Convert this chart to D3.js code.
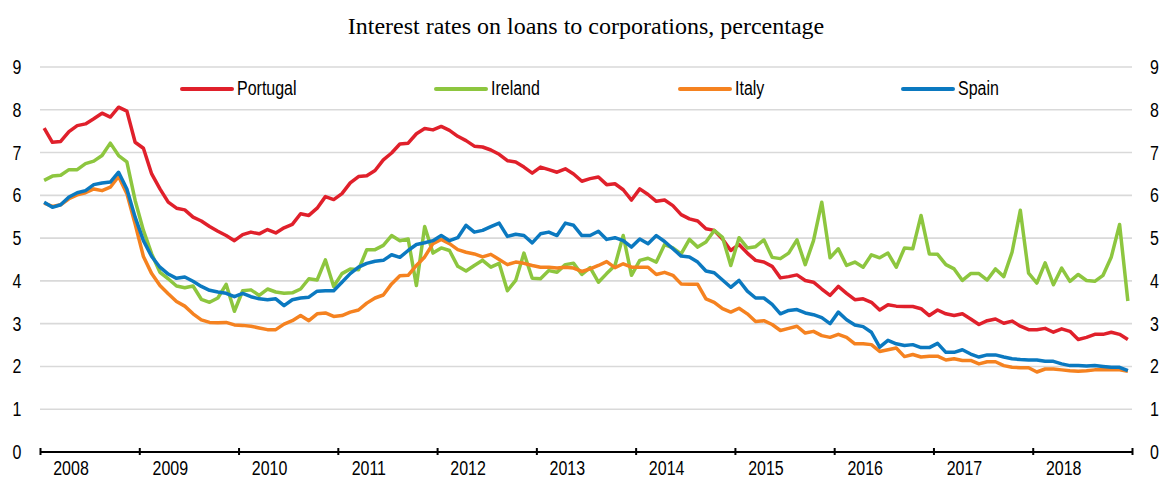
<!DOCTYPE html>
<html>
<head>
<meta charset="utf-8">
<script src="https://cdn.jsdelivr.net/npm/d3@7"></script>
<style>
	body { margin: 0; background: #fff; }
	.lab { font-family: "Liberation Sans", Arial, sans-serif; font-size: 19.5px; fill: #000; }
	.title { font-family: "Liberation Serif", "Times New Roman", serif; font-size: 24px; fill: #000; }
</style>
</head>
<body>
<div id="chart"></div>
<script>
// monthly values, Jan 2008 .. Dec 2018
var years = ["2008", "2009", "2010", "2011", "2012", "2013", "2014", "2015", "2016", "2017", "2018"];
var yTicks = [0, 1, 2, 3, 4, 5, 6, 7, 8, 9];
var names = ["Portugal", "Ireland", "Italy", "Spain"];
var colors = ["#e0202b", "#8dc63f", "#f58220", "#0b79c0"];

var portugal = [7.57,7.24,7.26,7.49,7.63,7.67,7.79,7.92,7.83,8.06,7.97,7.24,7.10,6.50,6.15,5.84,5.70,5.66,5.49,5.40,5.27,5.16,
	5.06,4.94,5.08,5.14,5.10,5.20,5.12,5.24,5.32,5.57,5.53,5.70,5.97,5.90,6.04,6.29,6.44,6.46,6.58,6.83,6.99,7.20,
	7.22,7.44,7.56,7.53,7.61,7.52,7.38,7.28,7.15,7.13,7.06,6.96,6.81,6.78,6.66,6.52,6.66,6.60,6.54,6.62,6.50,6.33,
	6.39,6.43,6.25,6.27,6.13,5.89,6.15,6.02,5.86,5.89,5.76,5.55,5.45,5.40,5.22,5.18,4.98,4.71,4.85,4.65,4.48,4.44,
	4.34,4.07,4.10,4.14,4.01,3.97,3.81,3.66,3.87,3.71,3.56,3.58,3.50,3.32,3.44,3.41,3.40,3.40,3.35,3.19,3.32,3.23,
	3.19,3.23,3.11,2.98,3.07,3.11,3.01,3.06,2.94,2.86,2.86,2.89,2.80,2.88,2.82,2.63,2.68,2.75,2.75,2.80,2.75,2.63];

var ireland = [6.35,6.45,6.47,6.60,6.60,6.74,6.80,6.93,7.22,6.93,6.78,5.88,5.18,4.63,4.20,4.05,3.88,3.84,3.88,3.57,3.50,3.60,
	3.92,3.29,3.77,3.79,3.66,3.81,3.74,3.71,3.72,3.81,4.05,4.02,4.49,3.87,4.17,4.28,4.26,4.73,4.73,4.83,5.06,4.94,
	4.98,3.89,5.27,4.65,4.77,4.71,4.34,4.23,4.36,4.48,4.32,4.41,3.77,4.01,4.65,4.06,4.05,4.24,4.20,4.38,4.41,4.15,
	4.31,3.97,4.17,4.36,5.06,4.13,4.48,4.53,4.44,4.85,4.77,4.63,4.97,4.79,4.91,5.18,5.02,4.36,5.01,4.77,4.80,4.96,
	4.55,4.52,4.65,4.96,4.38,4.94,5.84,4.54,4.75,4.36,4.44,4.32,4.61,4.54,4.65,4.32,4.77,4.75,5.53,4.63,4.62,4.38,
	4.28,4.01,4.17,4.17,4.02,4.28,4.10,4.67,5.65,4.18,3.95,4.42,3.91,4.30,3.99,4.15,4.01,3.99,4.13,4.56,5.32,3.53];

var italy = [5.82,5.74,5.78,5.92,6.01,6.06,6.15,6.11,6.19,6.44,6.04,5.33,4.57,4.17,3.89,3.70,3.52,3.41,3.23,3.09,3.03,3.02,
	3.03,2.97,2.96,2.94,2.90,2.86,2.86,2.99,3.07,3.19,3.07,3.23,3.25,3.17,3.19,3.27,3.32,3.48,3.60,3.67,3.93,4.12,
	4.13,4.36,4.56,4.87,4.97,4.87,4.73,4.67,4.63,4.56,4.62,4.50,4.38,4.44,4.41,4.36,4.32,4.32,4.30,4.32,4.30,4.22,
	4.28,4.36,4.45,4.31,4.40,4.32,4.32,4.32,4.15,4.20,4.13,3.93,3.92,3.92,3.58,3.50,3.35,3.27,3.36,3.23,3.05,3.07,
	2.98,2.84,2.89,2.94,2.78,2.82,2.72,2.68,2.75,2.68,2.53,2.53,2.51,2.35,2.39,2.43,2.23,2.28,2.22,2.24,2.24,2.15,
	2.18,2.14,2.14,2.06,2.11,2.11,2.02,1.98,1.97,1.97,1.87,1.94,1.94,1.92,1.90,1.89,1.90,1.92,1.93,1.92,1.92,1.89];

var spain = [5.84,5.72,5.78,5.96,6.06,6.11,6.25,6.29,6.31,6.54,6.15,5.49,4.94,4.57,4.32,4.16,4.06,4.09,3.99,3.87,3.78,3.74,
	3.71,3.63,3.71,3.63,3.58,3.56,3.58,3.42,3.56,3.60,3.62,3.76,3.77,3.77,3.97,4.17,4.32,4.41,4.46,4.48,4.61,4.55,
	4.71,4.85,4.89,4.94,5.06,4.94,5.01,5.30,5.14,5.18,5.27,5.35,5.04,5.09,5.06,4.89,5.10,5.14,5.06,5.35,5.30,5.06,
	5.06,5.16,4.97,5.01,4.94,4.79,4.98,4.87,5.06,4.92,4.75,4.58,4.56,4.44,4.23,4.19,4.02,3.85,4.01,3.76,3.60,3.60,
	3.45,3.23,3.31,3.33,3.25,3.21,3.14,3.00,3.27,3.09,2.97,2.93,2.80,2.45,2.61,2.53,2.49,2.51,2.44,2.44,2.54,2.33,
	2.33,2.39,2.29,2.22,2.27,2.27,2.22,2.18,2.16,2.15,2.15,2.12,2.12,2.06,2.02,2.02,2.01,2.02,2.00,1.98,1.98,1.90];

var W = 1161, H = 479,
	plotLeft = 40, plotRight = 1132,
	plotTop = 67, plotBottom = 452,
	nMonths = 132,
	narrow = 0.82;   // no Arial Narrow here, squeeze the sans font instead

var series = [portugal, ireland, italy, spain];

var x = d3.scaleLinear().domain([0, nMonths]).range([plotLeft, plotRight]);
var y = d3.scaleLinear().domain([0, 9]).range([plotBottom, plotTop]);

var svg = d3.select("#chart").append("svg")
	.attr("width", W)
	.attr("height", H);

svg.append("text")
	.attr("class", "title")
	.attr("x", 586)
	.attr("y", 34)
	.attr("text-anchor", "middle")
	.text("Interest rates on loans to corporations, percentage");

// horizontal grid
svg.append("g").selectAll("line")
	.data(yTicks.filter(function(d) { return d > 0; }))
	.enter().append("line")
	.attr("x1", plotLeft).attr("x2", plotRight)
	.attr("y1", function(d) { return y(d); })
	.attr("y2", function(d) { return y(d); })
	.style("stroke", "#d9d9d9")
	.style("stroke-width", 1.6);

function narrowText(sel, px, py) {
	sel.attr("transform", function(d, i) {
		return "translate(" + px(d, i) + "," + py(d, i) + ") scale(" + narrow + ",1)";
	});
}

// y labels on both sides
[17, 1150].forEach(function(pos, k) {
	svg.append("g").selectAll("text")
		.data(yTicks)
		.enter().append("text")
		.attr("class", "lab")
		.attr("text-anchor", k == 0 ? "middle" : "start")
		.call(narrowText, function() { return pos; }, function(d) { return y(d) + 7; })
		.text(function(d) { return d; });
});

// x axis
var xAxis = d3.axisBottom(x)
	.tickValues(d3.range(0, nMonths + 1, 12))
	.tickSize(3)
	.tickFormat("");

var gx = svg.append("g")
	.attr("transform", "translate(0," + plotBottom + ")")
	.call(xAxis);
gx.select(".domain").attr("stroke", "#000").attr("stroke-width", 2).attr("d", "M" + plotLeft + ",0H" + plotRight);
gx.selectAll(".tick line").attr("stroke", "#000").attr("stroke-width", 2).attr("y1", -4);

svg.append("g").selectAll("text")
	.data(years)
	.enter().append("text")
	.attr("class", "lab")
	.attr("text-anchor", "middle")
	.call(narrowText, function(d, i) { return x(i * 12) + 31; }, function() { return 475; })
	.text(function(d) { return d; });

// lines
var line = d3.line()
	.x(function(d, i) { return x(i + 0.5); })
	.y(function(d) { return y(d); });

svg.append("g").selectAll("path")
	.data(series)
	.enter().append("path")
	.attr("d", line)
	.style("fill", "none")
	.style("stroke", function(d, i) { return colors[i]; })
	.style("stroke-width", 3.5)
	.style("stroke-linejoin", "round");

// legend
var legendX = [182, 436, 680, 903];
var leg = svg.append("g").selectAll("g")
	.data(names)
	.enter().append("g")
	.attr("transform", function(d, i) { return "translate(" + legendX[i] + ",89)"; });

leg.append("line")
	.attr("x1", 0).attr("x2", 50)
	.style("stroke", function(d, i) { return colors[i]; })
	.style("stroke-width", 4)
	.style("stroke-linecap", "round");

leg.append("text")
	.attr("class", "lab")
	.call(narrowText, function() { return 55; }, function() { return 6; })
	.text(function(d) { return d; });
</script>
</body>
</html>
